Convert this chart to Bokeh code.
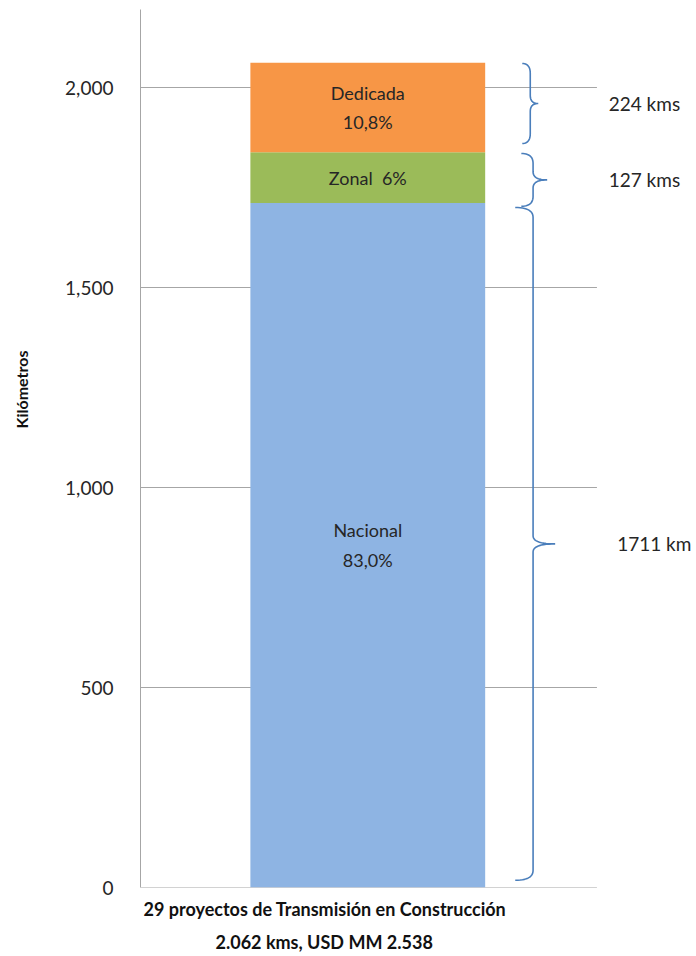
import numpy as np
from bokeh.plotting import figure
from bokeh.layouts import row
from bokeh.models import Range1d, FixedTicker, NumeralTickFormatter, Title, ColumnDataSource
from bokeh.embed import file_html
from bokeh.resources import INLINE
from bokeh.core.properties import value

# ---------------- data ----------------
categories = ["Nacional", "Zonal", "Dedicada"]
kms = [1711, 127, 224]
pct_labels = ["83,0%", "6%", "10,8%"]
side_labels = ["1711 km", "127 kms", "224 kms"]
y_ticks = [0, 500, 1000, 1500, 2000]
x_title = ["29 proyectos de Transmisión en Construcción", "2.062 kms, USD MM 2.538"]
y_title = "Kilómetros"

# ---------------- style ----------------
colors = ["#8EB4E3", "#9BBB59", "#F79646"]
label_sep = ["\n", "\u00a0\u00a0", "\n"]
FONT = "Lato"
TXT = "#262626"
GRID = "#A6A6A6"
BRACE = "#4A7EBB"

bar_x = 0.0
bar_w = 0.5
grid_x0, grid_x1 = -0.484, 0.488
brace_end = [0.314, 0.327, 0.329]
brace_spine = [0.352, 0.352, 0.346]
brace_tip = [0.399, 0.382, 0.363]
side_x = [0.531, 0.513, 0.513]
brace_pad_bottom = [18, -8, 22]
brace_pad_top = [11, 3, 2]
x_title_offsets = [3, 75]
x_title_standoffs = [16, 2]
y_title_pos = 1245

tops = list(np.cumsum(kms))
bottoms = [t - k for t, k in zip(tops, kms)]
mids = [(b + t) / 2 for b, t in zip(bottoms, tops)]
inner = [c + s + pc for c, s, pc in zip(categories, label_sep, pct_labels)]

yr = Range1d(0, 2195)
LEFT_W = 40

# narrow strip that carries the vertical axis title
pl = figure(width=LEFT_W, height=956, output_backend="svg", toolbar_location=None,
            x_range=Range1d(0, 1), y_range=yr, min_border_left=0, min_border_right=0,
            min_border_top=9, min_border_bottom=69)
pl.axis.visible = False
pl.grid.visible = False
pl.outline_line_color = None
pl.text(x=[0.52], y=[y_title_pos], text=[y_title], angle=np.pi / 2,
        text_font=value(FONT), text_font_size="16px", text_font_style="bold",
        text_align="center", text_baseline="middle", text_color="#111111")

p = figure(width=696 - LEFT_W, height=956, output_backend="svg", toolbar_location=None,
           x_range=Range1d(-0.484, 0.700), y_range=yr,
           min_border_left=140 - LEFT_W, min_border_right=0, min_border_top=9,
           min_border_bottom=69)
p.outline_line_color = None
p.grid.visible = False
p.xaxis.visible = False
p.background_fill_color = "white"
p.border_fill_color = "white"

yax = p.yaxis[0]
yax.ticker = FixedTicker(ticks=y_ticks)
yax.formatter = NumeralTickFormatter(format="0,0")
yax.axis_line_color = GRID
yax.axis_line_width = 1
yax.major_tick_line_color = None
yax.minor_tick_line_color = None
yax.major_label_standoff = 21
yax.major_label_text_font = FONT
yax.major_label_text_font_size = "19px"
yax.major_label_text_color = TXT

for txt, off, so in zip(x_title, x_title_offsets, x_title_standoffs):
    p.add_layout(Title(text=txt, align="left", offset=off, standoff=so,
                       text_font=FONT, text_font_size="18px", text_font_style="bold",
                       text_color="#111111"), "below")

# gridlines (stop at the category edge, like the original)
p.segment(x0=[grid_x0] * len(y_ticks), x1=[grid_x1] * len(y_ticks),
          y0=y_ticks, y1=y_ticks, line_color=GRID, line_width=1)

# stacked bar
src = ColumnDataSource(dict(x=[bar_x] * len(kms), bottom=bottoms, top=tops,
                            color=colors, mid=mids, inner=inner))
p.vbar(x="x", width=bar_w, bottom="bottom", top="top", fill_color="color",
       line_color=None, source=src)
p.text(x="x", y="mid", text="inner", source=src, text_font=value(FONT),
       text_font_size="18px", text_align="center", text_baseline="middle",
       text_color=TXT, text_line_height=1.35)

# curly braces
def brace(y0, y1, xe, xs, xt, r=25.0, rt=20.0, n=14):
    t = np.linspace(0, 1, n)
    def quad(a, c, b):
        return (1 - t) ** 2 * a + 2 * (1 - t) * t * c + t ** 2 * b
    ym = (y0 + y1) / 2
    xs_l, ys_l = [], []
    pieces = [
        ((xe, y1), (xs, y1), (xs, y1 - r)),
        ((xs, ym + rt), (xs, ym), (xt, ym)),
        ((xt, ym), (xs, ym), (xs, ym - rt)),
        ((xs, y0 + r), (xs, y0), (xe, y0)),
    ]
    for (ax, ay), (cx, cy), (bx, by) in pieces:
        xs_l.extend(quad(ax, cx, bx))
        ys_l.extend(quad(ay, cy, by))
    return xs_l, ys_l

bx, by, side_y = [], [], []
for i in range(len(kms)):
    y0 = bottoms[i] + brace_pad_bottom[i]
    y1 = tops[i] - brace_pad_top[i]
    xx, yy = brace(y0, y1, brace_end[i], brace_spine[i], brace_tip[i])
    bx.append(xx)
    by.append(yy)
    side_y.append((y0 + y1) / 2)
p.multi_line(xs=bx, ys=by, line_color=BRACE, line_width=1.6)

p.text(x=side_x, y=side_y, text=side_labels, text_font=value(FONT),
       text_font_size="19px", text_align="left", text_baseline="middle",
       text_color=TXT)

layout = row(pl, p, spacing=0)
open("out.html", "w").write(file_html(layout, INLINE))
